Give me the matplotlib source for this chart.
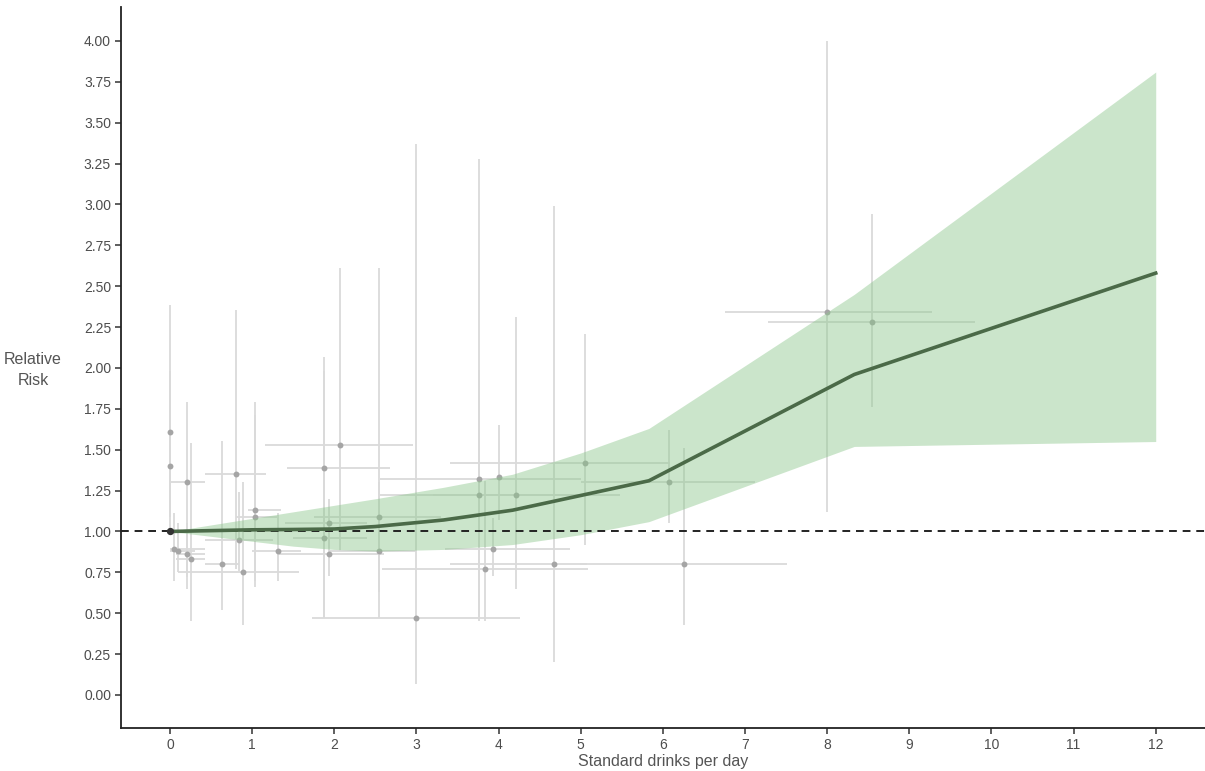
import numpy as np
import matplotlib
matplotlib.use("Agg")
from matplotlib import pyplot as plt

plt.rcParams['font.family'] = ['Liberation Sans', 'DejaVu Sans']

# pooled curve and its confidence band
curve_x = [0, 0.5, 1, 1.5, 2, 2.5, 3.33, 4.17, 5.0, 5.83, 8.33, 12]
curve_y = [1.0, 1.005, 1.01, 1.012, 1.015, 1.03, 1.07, 1.13, 1.22, 1.31, 1.96, 2.58]
band_lo = [1.0, 0.97, 0.94, 0.91, 0.89, 0.88, 0.89, 0.92, 0.98, 1.06, 1.52, 1.55]
band_hi = [1.0, 1.04, 1.08, 1.12, 1.16, 1.20, 1.27, 1.35, 1.48, 1.63, 2.45, 3.81]

# individual study estimates
study_x = [0.0, 0.0, 0.05, 0.10, 0.21, 0.21, 0.25, 0.63, 0.80, 0.84, 0.89, 1.04,
           1.04, 1.31, 1.88, 1.88, 1.93, 1.93, 2.07, 2.54, 2.54, 3.00, 3.76, 3.76,
           3.84, 3.93, 4.00, 4.21, 4.67, 5.05, 6.08, 6.26, 8.00, 8.54]
study_rr = [1.61, 1.40, 0.89, 0.88, 1.30, 0.86, 0.83, 0.80, 1.35, 0.95, 0.75, 1.13,
            1.09, 0.88, 1.39, 0.96, 1.05, 0.86, 1.53, 1.09, 0.88, 0.47, 1.32, 1.22,
            0.77, 0.89, 1.33, 1.22, 0.80, 1.42, 1.30, 0.80, 2.34, 2.28]
rr_lo = [1.09, 0.99, 0.70, 0.75, 0.65, 0.72, 0.45, 0.52, 0.77, 0.76, 0.43, 0.66,
         0.70, 0.70, 0.47, 0.47, 0.90, 0.73, 0.88, 0.63, 0.47, 0.07, 0.45, 0.47,
         0.45, 0.73, 1.07, 0.65, 0.20, 0.92, 1.05, 0.43, 1.12, 1.76]
rr_hi = [2.385, 1.98, 1.11, 1.05, 1.79, 1.05, 1.54, 1.555, 2.355, 1.24, 1.30, 1.79,
         1.71, 1.11, 2.07, 1.98, 1.20, 1.02, 2.61, 2.61, 1.30, 3.37, 3.28, 1.99,
         1.31, 1.08, 1.65, 2.31, 2.99, 2.21, 1.62, 1.51, 4.00, 2.94]
dose_lo = [0.0, 0.0, 0.0, 0.0, 0.0, 0.07, 0.07, 0.42, 0.42, 0.42, 0.10, 0.95,
           0.80, 1.00, 1.43, 1.50, 1.40, 1.30, 1.16, 1.75, 1.93, 1.73, 2.56, 2.56,
           2.58, 3.35, 4.00, 3.20, 3.41, 3.41, 5.00, 4.99, 6.76, 7.28]
dose_hi = [0.0, 0.0, 0.42, 0.30, 0.42, 0.42, 0.42, 0.835, 1.17, 1.25, 1.57, 1.35,
           1.30, 1.60, 2.68, 2.40, 2.40, 2.60, 2.96, 3.30, 3.00, 4.26, 5.00, 5.48,
           5.09, 4.87, 4.00, 5.20, 5.08, 6.09, 7.12, 7.51, 9.28, 9.80]

x_ticks = list(range(0, 13))
y_ticks = np.arange(0, 4.01, 0.25)

fig = plt.figure(figsize=(12.05, 7.71), dpi=100)
ax = fig.add_axes([0.1002, 0.0558, 0.8998, 0.9352])

# error bars
ax.vlines(study_x, rr_lo, rr_hi, color='#dadada', lw=1.3, zorder=1)
ax.hlines(study_rr, dose_lo, dose_hi, color='#dadada', lw=1.3, zorder=1)
ax.scatter(study_x, study_rr, s=18, color='#a5a5a5', zorder=2, linewidths=0)

# confidence band
ax.fill_between(curve_x, band_lo, band_hi, color=(0.55, 0.78, 0.55), alpha=0.45,
                lw=0, zorder=3)

ax.axhline(1.0, color='#222222', lw=1.4, ls=(0, (4, 3)), zorder=4)
ax.plot(curve_x, curve_y, color='#4b6a48', lw=2.6, zorder=5)
ax.scatter([0], [1.0], s=18, color='#333333', zorder=6)

ax.set_xlim(-0.6, 12.6)
ax.set_ylim(-0.202, 4.208)
ax.set_xticks(x_ticks)
ax.set_yticks(y_ticks)
ax.set_yticklabels(['%.2f' % v for v in y_ticks])

for s in ['top', 'right']:
    ax.spines[s].set_visible(False)
for s in ['left', 'bottom']:
    ax.spines[s].set_linewidth(1.3)
    ax.spines[s].set_color('#222222')
ax.tick_params(length=4, width=1.1, color='#333333', labelcolor='#4d4d4d',
               labelsize=10, pad=3)

ax.set_xlabel('Standard drinks per day', fontsize=11.5, color='#555555', labelpad=2)
fig.text(33 / 1205, 1 - 370 / 771, 'Relative\nRisk', ha='center', va='center',
         fontsize=11.5, color='#555555', linespacing=1.45)

fig.savefig('out.png', dpi=100)
